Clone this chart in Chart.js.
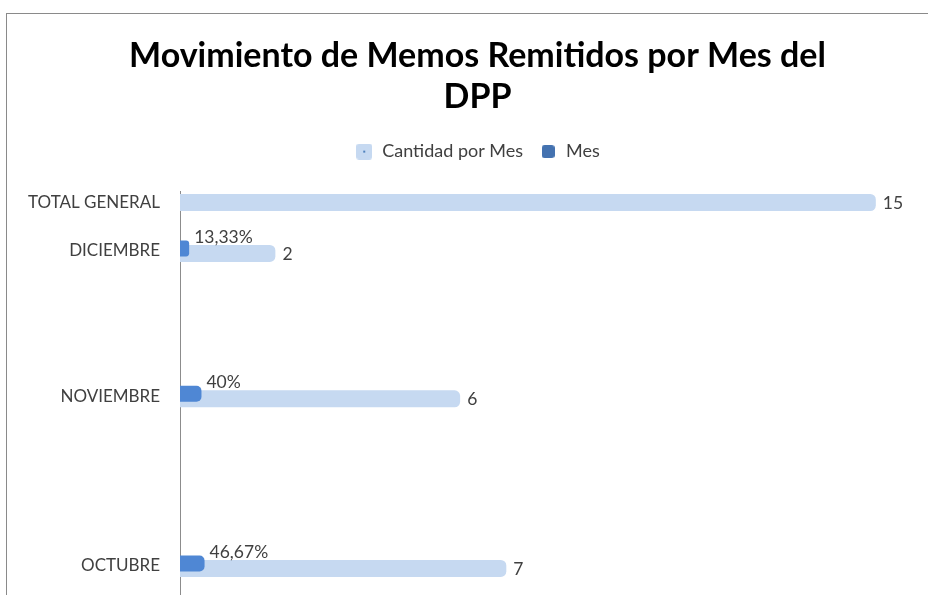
<!DOCTYPE html>
<html>
<head>
<meta charset="utf-8">
<script src="https://cdn.jsdelivr.net/npm/chart.js@4.4.1/dist/chart.umd.min.js"></script>
<style>
  html, body { margin: 0; padding: 0; background: #fff; }
  #wrap { position: relative; width: 928px; height: 595px; overflow: hidden; }
  #frame { position: absolute; left: 6px; top: 13px; right: -10px; bottom: -10px; border: 1px solid #8a8a8a; }
  canvas { position: absolute; left: 0; top: 0; }
</style>
</head>
<body>
<div id="wrap">
  <div id="frame"></div>
  <canvas id="memosChart" width="928" height="595"></canvas>
</div>
<script>
// Data
const categories = ['TOTAL GENERAL', 'DICIEMBRE', 'NOVIEMBRE', 'OCTUBRE'];
const cantidadPorMes = [15, 2, 6, 7];
const mesPercent = [null, 13.33, 40, 46.67];

const lightBlue = '#c6d9f1';
const midBlue = '#4f87d4';
const textGrey = '#404040';

// Rows in the original sit at running totals of the monthly counts
const rowPos = [];
cantidadPorMes.forEach((v, i) => {
  rowPos.push(i === 0 ? 0 : rowPos[i - 1] + v);
});

const fmtPct = v => String(v).replace('.', ',') + '%';

// small legend swatches
function swatch(fill, size, dot) {
  const c = document.createElement('canvas');
  c.width = size; c.height = size;
  const g = c.getContext('2d');
  g.fillStyle = fill;
  g.beginPath();
  g.roundRect(0, 0, size, size, 3);
  g.fill();
  if (dot) {
    g.fillStyle = '#4f81bd';
    g.fillRect(size / 2 - 1, size / 2 - 1, 2, 2);
  }
  return c;
}

// Draw value labels next to the bars
const barLabels = {
  id: 'barLabels',
  afterDatasetsDraw(chart) {
    const ctx = chart.ctx;
    ctx.save();
    ctx.fillStyle = textGrey;
    ctx.font = '17.5px Lato';
    ctx.textAlign = 'left';
    ctx.textBaseline = 'middle';
    chart.data.datasets.forEach((ds, di) => {
      const meta = chart.getDatasetMeta(di);
      meta.data.forEach((bar, i) => {
        if (ds.data[i].x == null) return;
        if (ds.label === 'Mes') {
          ctx.fillText(fmtPct(mesPercent[i]), bar.x + 8, bar.y - 11);
        } else {
          ctx.fillText(String(cantidadPorMes[i]), bar.x + 10, bar.y + 1);
        }
      });
    });
    ctx.restore();
  }
};

// Extra gap under the legend
const legendGap = {
  id: 'legendGap',
  beforeInit(chart) {
    const fit = chart.legend.fit;
    chart.legend.fit = function () {
      fit.bind(chart.legend)();
      this.height += 20.5;
    };
  }
};

const common = {
  categoryPercentage: 0.207,
  barPercentage: 5,
  inflateAmount: 3,
  borderRadius: 6,
  skipNull: true
};

new Chart(document.getElementById('memosChart'), {
  type: 'bar',
  data: {
    datasets: [
      {
        label: 'Cantidad por Mes',
        data: cantidadPorMes.map((v, i) => ({ x: v, y: rowPos[i] })),
        backgroundColor: lightBlue,
        maxBarThickness: 11,
        order: 1,
        ...common
      },
      {
        label: 'Mes',
        data: mesPercent.map((v, i) => ({ x: v == null ? null : v / 100, y: rowPos[i] })),
        backgroundColor: midBlue,
        maxBarThickness: 10,
        order: 0,
        ...common
      }
    ]
  },
  options: {
    indexAxis: 'y',
    responsive: false,
    animation: false,
    layout: { padding: { left: 36, right: 9, top: 0, bottom: 0 } },
    plugins: {
      title: {
        display: true,
        text: ['Movimiento de Memos Remitidos por Mes del', 'DPP'],
        color: '#000',
        font: { family: 'Lato', size: 34, weight: 'bold', lineHeight: 1.2 },
        padding: { top: 36, bottom: 9 }
      },
      legend: {
        position: 'top',
        labels: {
          color: textGrey,
          font: { family: 'Lato', size: 18 },
          usePointStyle: true,
          padding: 16,
          sort: (a, b) => a.datasetIndex - b.datasetIndex,
          generateLabels(chart) {
            const items = Chart.defaults.plugins.legend.labels.generateLabels(chart);
            items.forEach(it => {
              it.pointStyle = it.datasetIndex === 0 ? swatch(lightBlue, 16, true) : swatch('#4472b0', 13, false);
            });
            return items;
          }
        }
      },
      tooltip: { enabled: false }
    },
    scales: {
      x: {
        type: 'linear',
        display: false,
        min: 0,
        max: 16
      },
      y: {
        type: 'linear',
        reverse: true,
        offset: false,
        min: -0.47,
        max: 16.2,
        afterFit(scale) {
          scale.width = 144;
          scale.paddingTop = 0;
          scale.paddingBottom = 0;
          // let the long category names run past the padded edge
          scale._computeLabelArea = () => undefined;
        },
        afterBuildTicks(scale) {
          scale.ticks = rowPos.map(v => ({ value: v }));
        },
        ticks: {
          color: textGrey,
          font: { family: 'Lato', size: 17 },
          padding: 20,
          autoSkip: false,
          callback: v => categories[rowPos.indexOf(v)]
        },
        grid: { display: false, drawTicks: false, offset: false },
        border: { display: true, color: '#8c8c8c', width: 1 }
      }
    }
  },
  plugins: [barLabels, legendGap]
});
</script>
</body>
</html>
